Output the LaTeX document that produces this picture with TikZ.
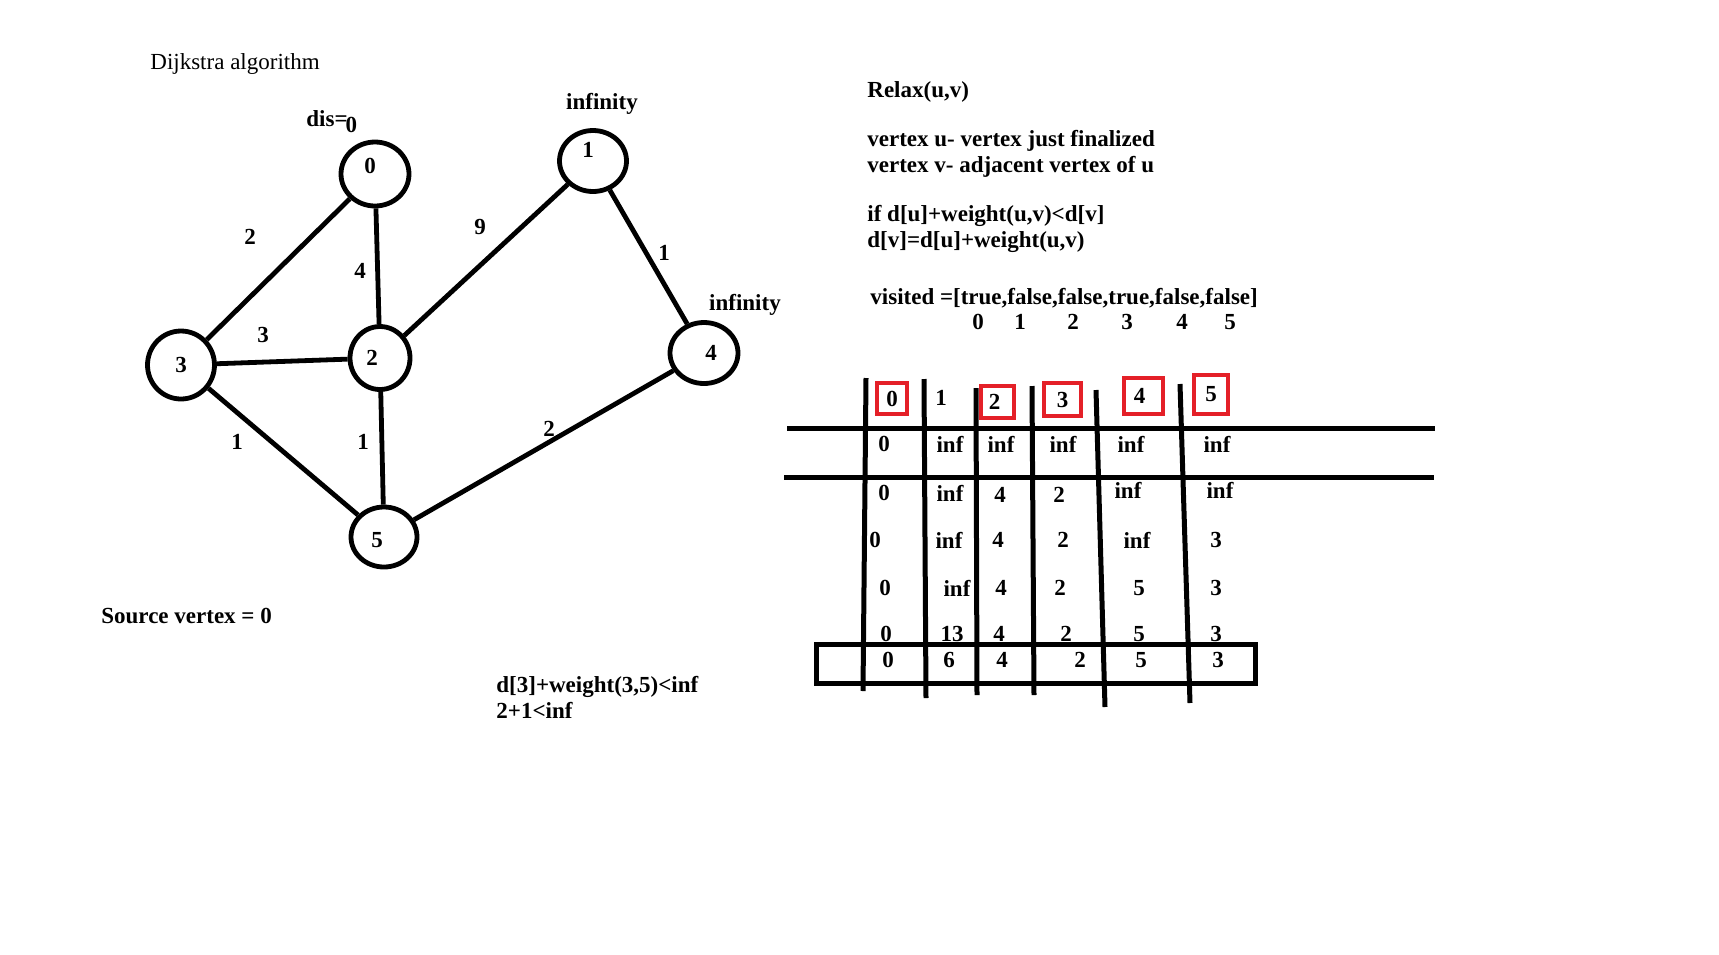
\documentclass[tikz,border=0pt]{standalone}
\usepackage{fontspec}
\setmainfont{Liberation Serif}
\usetikzlibrary{positioning,shapes.geometric}
\definecolor{boxred}{RGB}{228,32,40}
\tikzstyle{vertex} = [ellipse, draw=black, line width=2.4pt,
    minimum width=33.5pt, minimum height=31pt, inner sep=0pt]
\tikzstyle{link} = [line width=2.4pt]
\tikzstyle{grid} = [line width=2.5pt]

\begin{document}
\begin{tikzpicture}[x=0.5pt, y=-0.5pt,
    every node/.style={font=\fontsize{11.5}{13}\selectfont\bfseries, inner sep=1pt},
    weight/.style={},
    cell/.style={},
    redbox/.style={draw=boxred, line width=2.2pt, inner sep=0pt,
        minimum width=15pt, minimum height=15.5pt},
    para/.style={anchor=west, align=left}
    ]
  \useasboundingbox (0,0) rectangle (1719,954);
  % graph
  \node [anchor=west, font=\fontsize{11.5}{13}\selectfont] (Title) at (148,64) {Dijkstra algorithm};
  \node [vertex, minimum width=34pt, minimum height=32pt,
         label={[xshift=-2.5pt, yshift=4pt]center:0}] (V0) at (375,174) {};
  \node [vertex, minimum height=30.5pt,
         label={[xshift=-2.5pt, yshift=5.5pt]center:1}] (V1) at (593,161) {};
  \node [vertex, minimum width=30pt, minimum height=31.5pt,
         label={[xshift=-4pt]center:2}] (V2) at (380,358) {};
  \node [vertex, minimum height=34pt,
         label={center:3}] (V3) at (181,365) {};
  \node [vertex, minimum width=34pt, minimum height=30.5pt,
         label={[xshift=3.5pt]center:4}] (V4) at (704,353) {};
  \node [vertex, minimum width=33pt, minimum height=30pt,
         label={[xshift=-3.5pt, yshift=-1.5pt]center:5}] (V5) at (384,537) {};
  \node [anchor=west] (Dis) at (304,122) {dis=\hspace{-1pt}\raisebox{-0.25em}{0}};
  \node (InfA) at (602,104) {infinity};
  \node (InfB) at (745,305) {infinity};
  \draw [link] (V0) -- (V3);
  \draw [link] (V0) -- (V2);
  \draw [link] (V3) -- (V2);
  \draw [link] (V2) -- (V1);
  \draw [link] (V1) -- (V4);
  \draw [link] (V3) -- (V5);
  \draw [link] (V2) -- (V5);
  \draw [link] (V5) -- (V4);
  \node [weight] (w03) at (250,237) {2};
  \node [weight] (w02) at (360,271) {4};
  \node [weight] (w32) at (263,335) {3};
  \node [weight] (w21) at (480,227) {9};
  \node [weight] (w14) at (664,253) {1};
  \node [weight] (w35) at (237,442) {1};
  \node [weight] (w25) at (363,442) {1};
  \node [weight] (w54) at (549,429) {2};
  \node [anchor=west] (Source) at (99,616) {Source vertex = 0};
  \node [para] (Check) at (494,697) {d[3]+weight(3,5)<inf\\2+1<inf};
  % relax rule
  \node [anchor=west] (Relax) at (865,92) {Relax(u,v)};
  \node [para] (UV) at (865,154) {vertex u- vertex just finalized\\vertex v- adjacent vertex of u};
  \node [para] (Rule) at (865,229) {if d[u]+weight(u,v)<d[v]\\d[v]=d[u]+weight(u,v)};
  \node [anchor=west] (Visited) at (868,298) {visited =[true,false,false,true,false,false]};
  \foreach \x [count=\i from 0] in {978,1020,1073,1127,1182,1230}
    \node (Idx\i) at (\x,322) {\i};
  % table
  \draw [grid] (787,428) -- (1435,428);
  \draw [grid] (784,477) -- (1434,477);
  \foreach \xa/\ya/\xb/\yb in {866/378/863/691, 924/379/926/698, 976/388/977/695,
      1032/386/1034/695, 1096/390/1105/707, 1180/384/1190/703}
    \draw [grid] (\xa,\ya) -- (\xb,\yb);
  \draw [grid] (816,644) rectangle (1255,683);
  \node [redbox] (H0) at (892,398.5) {0};
  \node (H1) at (941,398) {1};
  \node [redbox, minimum width=16.5pt, minimum height=16pt] (H2) at (997.5,402) {\hspace{-3pt}2};
  \node [redbox, minimum width=18.5pt, minimum height=16.5pt] (H3) at (1062.5,399.5) {3};
  \node [redbox, minimum width=19.5pt, minimum height=18pt] (H4) at (1143.5,396) {\hspace{-4pt}4};
  \node [redbox, minimum width=17pt, minimum height=19.5pt] (H5) at (1211,394.5) {5};
  \foreach \x/\t [count=\i] in {884/0, 950/inf, 1001/inf, 1063/inf, 1131/inf, 1217/inf}
    \node [cell] (ra\i) at (\x,444) {\t};
  \foreach \x/\y/\t [count=\i] in {884/493/0, 950/493/inf, 1000/495/4, 1059/495/2,
      1128/490/inf, 1220/490/inf}
    \node [cell] (rb\i) at (\x,\y) {\t};
  \foreach \x/\t [count=\i] in {875/0, 949/inf, 998/4, 1063/2, 1137/inf, 1216/3}
    \node [cell] (rc\i) at (\x,540) {\t};
  \foreach \x/\t [count=\i] in {885/0, 957/inf, 1001/4, 1060/2, 1139/5, 1216/3}
    \node [cell] (rd\i) at (\x,588) {\t};
  \foreach \x/\t [count=\i] in {886/0, 952/13, 999/4, 1066/2, 1139/5, 1216/3}
    \node [cell] (re\i) at (\x,634) {\t};
  \foreach \x/\t [count=\i] in {888/0, 949/6, 1002/4, 1080/2, 1141/5, 1218/3}
    \node [cell] (rf\i) at (\x,660) {\t};
\end{tikzpicture}
\end{document}
